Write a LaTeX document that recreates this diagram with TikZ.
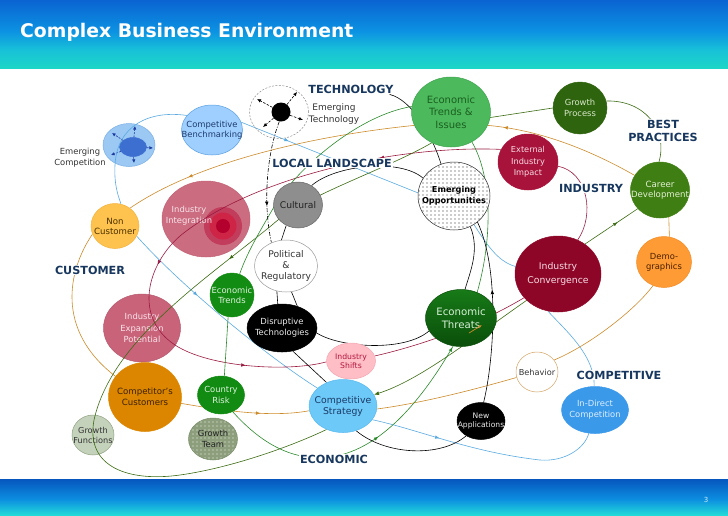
\documentclass[tikz,border=0pt]{standalone}
\usepackage{fontspec}
\setmainfont{DejaVu Sans}
\usetikzlibrary{shapes.geometric,arrows.meta,decorations.markings}
\pgfdeclarelayer{lower}
\pgfdeclarelayer{lines}
\pgfsetlayers{lower,lines,main}
\definecolor{navy}{HTML}{17375E}
\definecolor{cB}{HTML}{5AAAE0}
\definecolor{cO}{HTML}{CC8A2A}
\definecolor{cC}{HTML}{9A1A40}
\definecolor{cG}{HTML}{3B6B12}
\definecolor{cGr}{HTML}{2A8A2A}
\definecolor{hT}{HTML}{0A64D2}
\definecolor{hM}{HTML}{0C92E2}
\definecolor{hU}{HTML}{18C2D8}
\definecolor{hB}{HTML}{1CD6C6}
\definecolor{fT}{HTML}{0656BE}
\definecolor{fM}{HTML}{0C8EE0}
\definecolor{fB}{HTML}{22DAD8}
\definecolor{pgNum}{HTML}{D0ECF8}
\definecolor{ecF}{HTML}{9CC8F4}
\definecolor{ecD}{HTML}{7AAEE6}
\definecolor{ecI}{HTML}{3D6FD0}
\definecolor{ecA}{HTML}{1A3AA0}
\definecolor{cbF}{HTML}{9FCFFF}
\definecolor{cbD}{HTML}{5BA0E0}
\definecolor{cbT}{HTML}{1E3C6E}
\definecolor{etF}{HTML}{4CBA5C}
\definecolor{etD}{HTML}{3FA24E}
\definecolor{etT}{HTML}{1B5E20}
\definecolor{gpF}{HTML}{2F640F}
\definecolor{gpT}{HTML}{D8E8C8}
\definecolor{exF}{HTML}{A8133B}
\definecolor{exT}{HTML}{F8DCE4}
\definecolor{caF}{HTML}{3F7E12}
\definecolor{caT}{HTML}{E2F0D4}
\definecolor{cuF}{HTML}{8E8E8E}
\definecolor{cuD}{HTML}{666666}
\definecolor{cuT}{HTML}{222222}
\definecolor{iiF}{HTML}{CB6C80}
\definecolor{iiD}{HTML}{C26276}
\definecolor{iiRa}{HTML}{C23C5C}
\definecolor{iiRb}{HTML}{CE2446}
\definecolor{iiRc}{HTML}{B4002C}
\definecolor{iiT}{HTML}{F8E4EA}
\definecolor{ncF}{HTML}{FEC24E}
\definecolor{ncD}{HTML}{F2B23E}
\definecolor{ncT}{HTML}{4A3000}
\definecolor{prD}{HTML}{9A9A9A}
\definecolor{prT}{HTML}{333333}
\definecolor{erF}{HTML}{138C13}
\definecolor{erT}{HTML}{DDF2DD}
\definecolor{icF}{HTML}{8E0627}
\definecolor{icT}{HTML}{F6DCE4}
\definecolor{dmF}{HTML}{FF9B34}
\definecolor{dmD}{HTML}{F28C28}
\definecolor{dmT}{HTML}{4A2000}
\definecolor{ixF}{HTML}{C9637A}
\definecolor{ixT}{HTML}{FAE4EA}
\definecolor{thT}{HTML}{177A17}
\definecolor{thB}{HTML}{0A4E0A}
\definecolor{thX}{HTML}{D8F0D8}
\definecolor{isF}{HTML}{FFBDC5}
\definecolor{isD}{HTML}{F2A8B2}
\definecolor{isT}{HTML}{B01840}
\definecolor{bhD}{HTML}{D4A565}
\definecolor{ccF}{HTML}{DC8600}
\definecolor{ccT}{HTML}{3A2000}
\definecolor{crF}{HTML}{128B12}
\definecolor{csF}{HTML}{6DC9F8}
\definecolor{csD}{HTML}{58B8EE}
\definecolor{csT}{HTML}{1A3A66}
\definecolor{idF}{HTML}{3B99EA}
\definecolor{idT}{HTML}{DCEEFF}
\definecolor{gfF}{HTML}{C5D2BB}
\definecolor{gfD}{HTML}{8FA283}
\definecolor{gtF}{HTML}{8C9E7B}
\definecolor{gtD}{HTML}{7A8E6A}
\definecolor{etDash}{HTML}{8A8A8A}
\pgfdeclareverticalshading{hdr}{100bp}{color(0bp)=(hB); color(25bp)=(hB); color(38bp)=(hU); color(52bp)=(hM); color(75bp)=(hT); color(100bp)=(hT)}
\pgfdeclareverticalshading{ftr}{100bp}{color(0bp)=(fB); color(25bp)=(fB); color(47bp)=(fM); color(75bp)=(fT); color(100bp)=(fT)}
\newcommand\myfs[2]{\fontsize{#1}{#2}\selectfont}
\newcommand\mytip{\pgfsetdash{}{0pt}\arrow{Latex[length=4.5pt,width=3.6pt]}}
\tikzset{
  bub/.style={ellipse, inner sep=0pt, line width=0.5pt},
  tx/.style={align=center, inner sep=0pt},
  cat/.style={font=\bfseries\myfs{11.2}{12.8}, text=navy, fill=white, inner sep=1pt, align=center},
  ln/.style={line width=0.6pt},
  lnB/.style={ln, draw=cB},
  lnO/.style={ln, draw=cO},
  lnC/.style={ln, draw=cC},
  lnG/.style={ln, draw=cG},
  lnGr/.style={ln, draw=cGr},
  lnK/.style={ln, draw=black},
  arr/.style={postaction={decorate, decoration={markings, mark=at position #1 with {\mytip}}}},
  arrtwo/.style 2 args={postaction={decorate, decoration={markings, mark=at position #1 with {\mytip}, mark=at position #2 with {\mytip}}}},
  arrthree/.style n args={3}{postaction={decorate, decoration={markings, mark=at position #1 with {\mytip}, mark=at position #2 with {\mytip}, mark=at position #3 with {\mytip}}}},
  etArr/.style={draw=black, line width=0.6pt, dash pattern=on 2.5pt off 1.5pt, -{Latex[length=4pt,width=3.5pt]}},
  ecArr/.style={draw=ecA, line width=0.6pt, dash pattern=on 2pt off 1.2pt, -{Latex[length=3.6pt,width=3.4pt]}},
}
\begin{document}
\begin{tikzpicture}[x=1pt,y=-1pt]
\useasboundingbox (0,0) rectangle (728,515);
\shade[shading=hdr] (0,0) rectangle (728,68);
\shade[shading=ftr] (0,479) rectangle (728,515);
\node[anchor=base west, text=white, font=\bfseries\myfs{18.8}{22}, inner sep=0pt] (title) at (20,37) {Complex Business Environment};
\node[text=pgNum, font=\myfs{7}{8}, inner sep=0pt] (pgno) at (706,500) {3};

% ---------- nodes that lines cross visibly
\begin{pgfonlayer}{lower}
\node[bub, minimum width=52pt, minimum height=43pt, fill=ecF, draw=ecD] (ecomp) at (129,145) {};
\node[bub, minimum width=27pt, minimum height=19pt, fill=ecI, draw=ecI] (ecompin) at (133,147) {};
\coordinate (ecA1) at (112,133);
\coordinate (ecA2) at (135,126);
\coordinate (ecA3) at (153,148);
\coordinate (ecA4) at (134,163);
\coordinate (ecA5) at (111,155);
\draw[ecArr] (ecompin) -- (ecA1);
\draw[ecArr] (ecompin) -- (ecA2);
\draw[ecArr] (ecompin) -- (ecA3);
\draw[ecArr] (ecompin) -- (ecA4);
\draw[ecArr] (ecompin) -- (ecA5);
\node[bub, minimum width=88pt, minimum height=76pt, fill=iiF, draw=iiD] (indint) at (206,219) {};
\node[circle, inner sep=0pt, minimum size=38pt, fill=iiRa] (ringa) at (223,226) {};
\node[circle, inner sep=0pt, minimum size=27pt, fill=iiRb] (ringb) at (223,226) {};
\node[circle, inner sep=0pt, minimum size=14pt, fill=iiRc] (ringc) at (223,226) {};
\node[tx, text=iiT, font=\myfs{8.4}{11}] (indintT) at (189,216) {Industry\\Integration};
\node[bub, minimum width=77pt, minimum height=68pt, fill=ixF, draw=ixF!90!black] (indexp) at (142,328) {};
\node[tx, text=ixT, font=\myfs{8.4}{11.7}] (indexpT) at (indexp) {Industry\\Expansion\\Potential};
\node[bub, minimum width=42pt, minimum height=40pt, fill=gfF, draw=gfD] (gfunc) at (93,435) {};
\node[tx, text=prT, font=\myfs{8.2}{10}] (gfuncT) at (gfunc) {Growth\\Functions};
\end{pgfonlayer}

% ---------- main nodes
\node[bub, minimum width=59pt, minimum height=53pt, draw=etDash, dash pattern=on 2pt off 1.5pt] (etech) at (279,112) {};
\node[circle, fill=black, minimum size=19pt, inner sep=0pt] (etdot) at (281,112) {};
\coordinate (etA1) at (297,92);
\coordinate (etA2) at (257,99);
\coordinate (etA3) at (263,127);
\coordinate (etA4) at (303,120);
\draw[etArr] (etdot) -- (etA1);
\draw[etArr] (etdot) -- (etA2);
\draw[etArr] (etdot) -- (etA3);
\draw[etArr] (etdot) -- (etA4);
\node[tx, text=prT, font=\myfs{9}{12.5}] (etechT) at (334,114) {Emerging\\Technology};
\node[tx, text=prT, font=\myfs{8.4}{11}] (ecompT) at (80,158) {Emerging\\Competition};

\node[bub, minimum width=61pt, minimum height=50pt, fill=cbF, draw=cbD] (cbench) at (212,130) {};
\node[tx, text=cbT, font=\myfs{8.4}{10}] (cbenchT) at (cbench) {Competitive\\Benchmarking};
\node[bub, minimum width=79pt, minimum height=70pt, fill=etF, draw=etD] (etrendsI) at (451,112) {};
\node[tx, text=etT, font=\myfs{10}{12.5}] (etrendsIT) at (etrendsI) {Economic\\Trends \&\\Issues};
\node[bub, minimum width=54pt, minimum height=52pt, fill=gpF, draw=gpF] (gproc) at (580,108) {};
\node[tx, text=gpT, font=\myfs{8.4}{11}] (gprocT) at (gproc) {Growth\\Process};
\node[bub, minimum width=60pt, minimum height=56pt, fill=exF, draw=exF] (extimp) at (528,162) {};
\node[tx, text=exT, font=\myfs{8.2}{11.5}] (extimpT) at (extimp) {External\\Industry\\Impact};
\node[bub, minimum width=59pt, minimum height=56pt, fill=caF, draw=caF] (career) at (660,190) {};
\node[tx, text=caT, font=\myfs{8.6}{10.5}] (careerT) at (career) {Career\\Development};
\node[bub, minimum width=72pt, minimum height=68pt, draw=black!85, fill=white] (eopp) at (454,196) {};
\begin{scope}
\clip (454,196) ellipse [x radius=35.3pt, y radius=33.3pt];
\foreach \i in {0,...,18} \foreach \j in {0,...,17} \fill[black!85] (419+4*\i,163+4*\j) circle [radius=0.6pt];
\end{scope}
\node[tx, text=black, font=\bfseries\myfs{8.2}{11}] (eoppT) at (eopp) {Emerging\\Opportunities};
\node[bub, minimum width=49pt, minimum height=46pt, fill=cuF, draw=cuD] (cult) at (298,205) {};
\node[tx, text=cuT, font=\myfs{9.2}{11}] (cultT) at (cult) {Cultural};
\node[bub, minimum width=48pt, minimum height=45pt, fill=ncF, draw=ncD] (noncust) at (115,226) {};
\node[tx, text=ncT, font=\myfs{8.6}{10}] (noncustT) at (noncust) {Non\\Customer};
\node[bub, minimum width=63pt, minimum height=52pt, fill=white, draw=prD] (polreg) at (286,266) {};
\node[tx, text=prT, font=\myfs{9.2}{11}] (polregT) at (polreg) {Political\\\&\\Regulatory};
\node[bub, minimum width=44pt, minimum height=44pt, fill=erF, draw=erF] (etrends) at (232,295) {};
\node[tx, text=erT, font=\myfs{8.4}{10}] (etrendsT) at (etrends) {Economic\\Trends};
\node[bub, minimum width=86pt, minimum height=76pt, fill=icF, draw=icF] (indconv) at (558,274) {};
\node[tx, text=icT, font=\myfs{9.3}{14}] (indconvT) at (indconv) {Industry\\Convergence};
\node[bub, minimum width=55pt, minimum height=51pt, fill=dmF, draw=dmD] (demo) at (664,262) {};
\node[tx, text=dmT, font=\myfs{8.4}{9.8}] (demoT) at (demo) {Demo-\\graphics};
\node[bub, minimum width=70pt, minimum height=48pt, fill=black, draw=black] (disrupt) at (282,328) {};
\node[tx, text=white!92!black, font=\myfs{8.4}{10.7}] (disruptT) at (disrupt) {Disruptive\\Technologies};
\node[bub, minimum width=71pt, minimum height=57pt, top color=thT, bottom color=thB, draw=thB] (ethreat) at (461,318) {};
\node[tx, text=thX, font=\myfs{10.2}{12.7}] (ethreatT) at (ethreat) {Economic\\Threats};
\coordinate (thA) at (469,333);
\coordinate (thB) at (482,325);
\draw[draw=cO, line width=0.7pt, -{Latex[length=3.5pt,width=3pt]}] (thA) -- (thB);
\node[bub, minimum width=49pt, minimum height=36pt, fill=isF, draw=isD] (indshift) at (351,361) {};
\node[tx, text=isT, font=\myfs{7.7}{9.7}] (indshiftT) at (indshift) {Industry\\Shifts};
\node[bub, minimum width=42pt, minimum height=40pt, fill=white, draw=bhD] (behav) at (537,372) {};
\node[tx, text=prT, font=\myfs{8.2}{10}] (behavT) at (behav) {Behavior};
\node[bub, minimum width=73pt, minimum height=69pt, fill=ccF, draw=ccF] (compcust) at (145,397) {};
\node[tx, text=ccT, font=\myfs{8.6}{11}] (compcustT) at (compcust) {Competitor’s\\Customers};
\node[bub, minimum width=47pt, minimum height=38pt, fill=crF, draw=crF] (crisk) at (221,395) {};
\node[tx, text=erT, font=\myfs{8.4}{10.7}] (criskT) at (crisk) {Country\\Risk};
\node[bub, minimum width=68pt, minimum height=53pt, fill=csF, draw=csD] (cstrat) at (343,406) {};
\node[tx, text=csT, font=\myfs{9.3}{11}] (cstratT) at (cstrat) {Competitive\\Strategy};
\node[bub, minimum width=48pt, minimum height=37pt, fill=black, draw=black] (newapp) at (481,421) {};
\node[tx, text=white!92!black, font=\myfs{7.6}{8.8}] (newappT) at (newapp) {New\\Applications};
\node[bub, minimum width=67pt, minimum height=47pt, fill=idF, draw=idF] (indirect) at (595,410) {};
\node[tx, text=idT, font=\myfs{8.4}{10.7}] (indirectT) at (indirect) {In-Direct\\Competition};
\node[bub, minimum width=49pt, minimum height=42pt, draw=gtD, fill=gtF] (gteam) at (213,439) {};
\begin{scope}
\clip (213,439) ellipse [x radius=23.8pt, y radius=20.3pt];
\foreach \i in {0,...,12} \foreach \j in {0,...,11} \fill[white!90!gtF] (189+4*\i,418+4*\j) circle [radius=0.6pt];
\end{scope}
\node[tx, text=cuT, font=\myfs{8.4}{11}] (gteamT) at (gteam) {Growth\\Team};

% ---------- connectors
\begin{pgfonlayer}{lines}
% blue
\draw[lnB] (cbench.150) .. controls (150,110) and (117,125) .. (115,165) .. controls (114,185) and (118,195) .. (noncust.75);
\draw[lnB, arr=0.36] (noncust.-25) .. controls (180,285) and (265,355) .. (cstrat.145);
\draw[lnB, arr=0.27] (cbench.15) -- (eopp.175);
\draw[lnB] (eopp.-55) .. controls (490,250) and (500,262) .. (indconv.170);
\draw[lnB] (indconv.-105) .. controls (565,330) and (595,355) .. (indirect.92);
\draw[lnB, arr=0.3] (cstrat.-25) .. controls (420,430) and (470,452) .. (540,460) .. controls (565,462) and (585,448) .. (indirect.-105);
% orange
\draw[lnO, arr=0.9] (career.150) .. controls (590,150) and (540,130) .. (etrendsI.-20);
\draw[lnO, arr=0.78] (etrendsI.-160) .. controls (320,135) and (200,160) .. (noncust.50);
\draw[lnO] (noncust.200) .. controls (68,270) and (55,330) .. (compcust.145);
\draw[lnO, arr=0.62] (compcust.-10) .. controls (220,410) and (270,418) .. (cstrat.188);
\draw[lnO] (cstrat.-5) .. controls (430,402) and (490,385) .. (behav.195);
\draw[lnO] (behav.35) .. controls (590,345) and (635,310) .. (demo.-115);
\draw[lnO] (demo.78) -- (career.-72);
% crimson
\draw[lnC, arrthree={122pt}{375pt}{540pt}] (extimp.155) .. controls (400,145) and (260,175) .. (185,232) .. controls (150,258) and (130,315) .. (175,345) .. controls (210,368) and (290,372) .. (indshift.182);
\draw[lnC] (indshift.12) .. controls (410,348) and (470,330) .. (indconv.-145);
\draw[lnC] (indconv.60) .. controls (595,215) and (588,172) .. (extimp.-8);
% olive
\draw[lnG] (gproc.180) -- (etrendsI.-8);
\draw[lnG] (gproc.15) .. controls (645,100) and (668,130) .. (career.92);
\draw[lnG, arr=0.62] (indconv.48) -- (career.-140);
\draw[lnG, -{Latex[length=5pt,width=4pt]}] (indconv.-140) .. controls (470,340) and (420,380) .. (cstrat.20);
\draw[lnG, arr={235pt}] (etrendsI.-122) .. controls (385,170) and (305,195) .. (272,225) .. controls (205,280) and (112,340) .. (94,420) .. controls (85,468) and (130,482) .. (180,475) .. controls (230,468) and (290,447) .. (cstrat.-125);
% green
\draw[lnGr] (etrendsI.172) .. controls (360,115) and (300,165) .. (275,205) .. controls (262,228) and (248,250) .. (etrends.70);
\draw[lnGr] (etrends.-100) -- (crisk.80);
\draw[lnGr, arrtwo={165pt}{282pt}] (crisk.-55) .. controls (258,440) and (290,462) .. (330,457) .. controls (385,450) and (430,390) .. (462,330) .. controls (485,290) and (502,195) .. (etrendsI.-55);
% black
\draw[lnK, dash pattern=on 4pt off 1.5pt on 1pt off 1.5pt, arr=0.7] (etdot.-100) .. controls (268,150) and (262,200) .. (polreg.122);
\draw[lnK] (cult.55) .. controls (335,165) and (400,158) .. (eopp.150);
\draw[lnK] (cult.-120) -- (polreg.100);
\draw[lnK] (polreg.-110) -- (disrupt.100);
\draw[lnK] (polreg.-78) -- (disrupt.55);
\draw[lnK] (disrupt.-65) -- (cstrat.125);
\draw[lnK] (disrupt.-8) .. controls (340,348) and (405,352) .. (ethreat.-158);
\draw[lnK] (cstrat.-62) .. controls (385,455) and (440,458) .. (newapp.-135);
\draw[lnK] (eopp.-62) .. controls (480,250) and (470,272) .. (ethreat.82);
\draw[lnK, arr=0.62] (newapp.82) .. controls (494,360) and (500,270) .. (eopp.-48);
\end{pgfonlayer}

% ---------- category labels
\node[cat] (lblTech) at (351,89) {TECHNOLOGY};
\node[cat] (lblLocal) at (332,163) {LOCAL LANDSCAPE};
\node[cat] (lblBest) at (663,131) {BEST\\PRACTICES};
\node[cat] (lblInd) at (591,188) {INDUSTRY};
\node[cat] (lblCust) at (90,270) {CUSTOMER};
\node[cat] (lblComp) at (619,375) {COMPETITIVE};
\node[cat] (lblEcon) at (334,459) {ECONOMIC};
\begin{pgfonlayer}{lines}
\draw[lnK] (lblTech.-8) .. controls (412,100) and (432,135) .. (eopp.112);
\end{pgfonlayer}
\end{tikzpicture}
\end{document}
